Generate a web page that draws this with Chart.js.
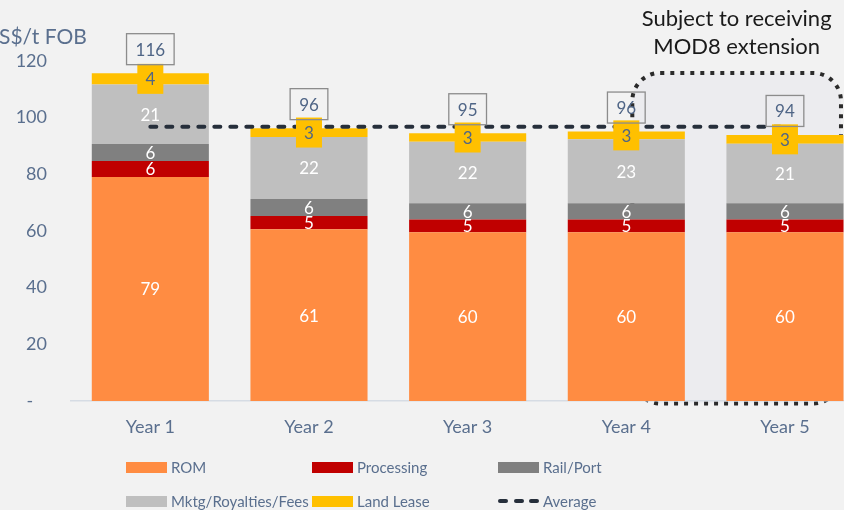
<!DOCTYPE html>
<html lang="en">
<head>
  <meta charset="UTF-8" />
  <title>Cost breakdown</title>
  <script src="https://cdn.jsdelivr.net/npm/chart.js"></script>
  <style>
    body {
      margin: 0;
      background: #f2f2f2;
      overflow: hidden;
      font-family: Lato, sans-serif;
    }
    .wrap {
      position: relative;
      width: 900px;
      height: 510px;
    }
    .item {
      position: absolute;
      height: 22px;
      display: flex;
      align-items: center;
      font-size: 15px;
      color: #5a6f8e;
      white-space: nowrap;
    }
    .swatch {
      width: 41px;
      height: 11px;
      margin-right: 4px;
      display: flex;
      align-items: center;
      justify-content: space-between;
    }
    .dash {
      width: 10px;
      height: 4px;
      border-radius: 2px;
      background: #262f3b;
    }
  </style>
</head>
<body>
  <div class="wrap">
    <canvas id="chart" width="900" height="510"></canvas>
    <div id="legend"></div>
  </div>

  <script>
    const years = ['Year 1', 'Year 2', 'Year 3', 'Year 4', 'Year 5'];
    const rom = [79.1, 60.6, 59.6, 59.6, 59.6];
    const processing = [5.6, 4.7, 4.5, 4.5, 4.5];
    const railPort = [6.0, 6.0, 5.7, 5.7, 5.7];
    const mktg = [21.0, 21.9, 21.7, 22.6, 21.0];
    const landLease = [4.0, 3.1, 3.0, 2.7, 3.1];
    const totals = [116, 96, 95, 96, 94];
    const average = [96.8, 96.8, 96.8, 96.8, 96.8];
    const yTicks = [0, 20, 40, 60, 80, 100, 120];

    const textBlue = '#5a6f8e';
    const labelDark = '#4f6586';

    // dotted callout box + annotation text, drawn behind everything
    const calloutPlugin = {
      id: 'callout',
      beforeDraw(chart) {
        const { ctx } = chart;
        const x = chart.scales.x, y = chart.scales.y;
        const left = x.getPixelForValue(3) + 6;
        const right = x.getPixelForValue(4) + 56;
        const top = y.getPixelForValue(115.8);
        const bottom = y.getPixelForValue(0) + 2.5;
        ctx.save();
        ctx.beginPath();
        ctx.roundRect(left, top, right - left, bottom - top, 28);
        ctx.fillStyle = '#ececef';
        ctx.fill();
        ctx.setLineDash([4, 6]);
        ctx.lineWidth = 4;
        ctx.strokeStyle = '#2b2b2b';
        ctx.stroke();
        ctx.setLineDash([]);

        ctx.fillStyle = '#1a1a1a';
        ctx.font = '22px Lato';
        ctx.textAlign = 'center';
        ctx.textBaseline = 'middle';
        const cx = (left + right) / 2;
        ctx.fillText('Subject to receiving', cx, 19);
        ctx.fillText('MOD8 extension', cx, 47);

        ctx.fillStyle = textBlue;
        ctx.font = '21px Lato';
        ctx.textAlign = 'left';
        ctx.fillText('S$/t FOB', -1, 37);
        ctx.restore();
      }
    };

    const labelPlugin = {
      id: 'segLabels',
      afterDatasetsDraw(chart) {
        const { ctx } = chart;
        ctx.save();
        ctx.font = '17px Lato';
        ctx.textAlign = 'center';
        ctx.textBaseline = 'middle';
        chart.data.datasets.forEach((ds, di) => {
          if (ds.type === 'line') return;
          const meta = chart.getDatasetMeta(di);
          meta.data.forEach((bar, i) => {
            const txt = String(Math.round(ds.data[i]));
            const cy = (bar.y + bar.base) / 2;
            if (ds.label === 'Land Lease') {
              ctx.fillStyle = '#ffc000';
              ctx.fillRect(bar.x - 13, cy - 15, 26, 30);
              ctx.fillStyle = labelDark;
            } else {
              ctx.fillStyle = '#ffffff';
            }
            ctx.fillText(txt, bar.x, cy + 1);
          });
        });

        const topMeta = chart.getDatasetMeta(4);
        totals.forEach((t, i) => {
          const bar = topMeta.data[i];
          const txt = String(t);
          const w = ctx.measureText(txt).width + 18;
          const cy = bar.y - 24;
          ctx.strokeStyle = '#8c8c8c';
          ctx.lineWidth = 1.3;
          ctx.strokeRect(bar.x - w / 2, cy - 15.5, w, 31);
          ctx.fillStyle = labelDark;
          ctx.fillText(txt, bar.x, cy + 1);
        });
        ctx.restore();
      }
    };

    const ctx = document.getElementById('chart').getContext('2d');
    const chart = new Chart(ctx, {
      type: 'bar',
      data: {
        labels: years,
        datasets: [
          { label: 'ROM', data: rom, backgroundColor: '#ff8c42', stack: 'cost' },
          { label: 'Processing', data: processing, backgroundColor: '#c00000', stack: 'cost' },
          { label: 'Rail/Port', data: railPort, backgroundColor: '#808080', stack: 'cost' },
          { label: 'Mktg/Royalties/Fees', data: mktg, backgroundColor: '#bfbfbf', stack: 'cost' },
          { label: 'Land Lease', data: landLease, backgroundColor: '#ffc000', stack: 'cost' },
          {
            type: 'line', label: 'Average', data: average, stack: 'avg',
            borderColor: '#262f3b', borderWidth: 4, borderDash: [6, 10],
            borderCapStyle: 'round', pointRadius: 0, fill: false, order: -1
          }
        ]
      },
      options: {
        responsive: false,
        animation: false,
        layout: { padding: { top: 61, right: 35.7, bottom: 69, left: 0 } },
        datasets: { bar: { categoryPercentage: 1, barPercentage: 0.738 } },
        plugins: { legend: { display: false }, tooltip: { enabled: false } },
        scales: {
          x: {
            stacked: true,
            grid: { display: false, drawTicks: false },
            border: { display: true, color: '#d6dce4', width: 1.5 },
            ticks: { color: textBlue, font: { family: 'Lato', size: 18 }, padding: 15 },
            afterFit(s) { s.height = 40; }
          },
          y: {
            stacked: true,
            min: 0,
            max: 120,
            grid: { display: false, drawTicks: false },
            border: { display: false },
            afterBuildTicks(s) { s.ticks = yTicks.map(v => ({ value: v })); },
            ticks: {
              color: textBlue,
              font: { family: 'Lato', size: 18 },
              padding: 24,
              callback: v => (v === 0 ? '-   ' : v)
            },
            afterFit(s) { s.width = 71; }
          }
        }
      },
      plugins: [calloutPlugin, labelPlugin]
    });

    // legend in a 3-column grid, built from the chart datasets
    const colX = [126, 312, 498];
    const rowY = [467, 501];
    const legend = document.getElementById('legend');
    chart.data.datasets.forEach((ds, i) => {
      const item = document.createElement('div');
      item.className = 'item';
      item.style.left = colX[i % 3] + 'px';
      item.style.top = (rowY[Math.floor(i / 3)] - 11) + 'px';
      const sw = document.createElement('span');
      sw.className = 'swatch';
      if (ds.type === 'line') {
        for (let k = 0; k < 3; k++) {
          const d = document.createElement('span');
          d.className = 'dash';
          sw.appendChild(d);
        }
      } else {
        sw.style.background = ds.backgroundColor;
      }
      item.appendChild(sw);
      item.appendChild(document.createTextNode(ds.label));
      legend.appendChild(item);
    });
  </script>
</body>
</html>
